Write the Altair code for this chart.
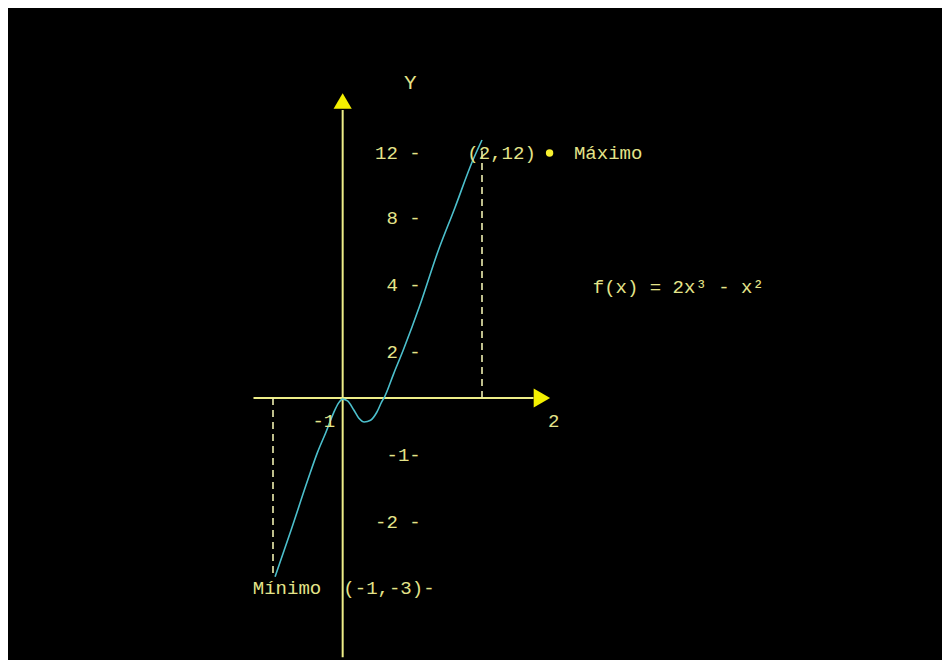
import altair as alt
import pandas as pd

# ---- data ----
# drawn curve of f(x) = 2x^3 - x^2 (as it appears in the picture)
curve_x = [-0.97, -0.74, -0.50, -0.36, -0.24, -0.13, -0.06, 0.0, 0.07, 0.16, 0.23, 0.31,
           0.40, 0.49, 0.56, 0.60, 0.73, 0.87, 1.11, 1.36, 1.61, 1.87, 2.0]
curve_y = [-2.83, -2.12, -1.37, -0.95, -0.60, -0.26, -0.09, -0.02, -0.05, -0.21, -0.35, -0.42,
           -0.39, -0.25, -0.07, 0.04, 1.04, 2.06, 3.40, 5.91, 8.62, 11.57, 12.8]

y_tick_values = [12, 8, 4, 2, -1, -2]
y_tick_labels = ["12 -", "8 -", "4 -", "2 -", "-1-", "-2 -"]

x_tick_values = [-1, 2]
x_tick_labels = ["-1", "2"]

max_point = (2, 12)
min_point = (-1, -3)

# ---- scales (piecewise y scale as drawn in the picture) ----
XS = alt.Scale(domain=[-1, 2], range=[265, 474], zero=False, nice=False)
YS = alt.Scale(domain=[-3, -2, -1, 0, 2, 4, 8, 12],
               range=[580, 514, 447, 390, 344, 277, 210, 145], zero=False, nice=False)

AXIS_COL = "#eeee88"
ARROW_COL = "#f4f000"
TEXT_COL = "#e4e48a"
DASH_COL = "#eeeeb0"
CURVE_COL = "#4cbfcc"
FONT = "Liberation Mono"
FS = 19


def X(f="x"):
    return alt.X(f"{f}:Q", scale=XS, axis=None)


def Y(f="y"):
    return alt.Y(f"{f}:Q", scale=YS, axis=None)


# axes lines
axes_df = pd.DataFrame({
    "x": [0.0, -1.28], "x2": [0.0, 2.74],
    "y": [-4.05, 0.0], "y2": [14.65, 0.0],
})
axes = alt.Chart(axes_df).mark_rule(color=AXIS_COL, strokeWidth=2).encode(
    x=X(), x2="x2:Q", y=Y(), y2="y2:Q")

arrow_up = alt.Chart(pd.DataFrame({"x": [0.0], "y": [15.2]})).mark_point(
    shape="triangle-up", filled=True, size=330, color=ARROW_COL, opacity=1).encode(x=X(), y=Y())
arrow_right = alt.Chart(pd.DataFrame({"x": [2.86], "y": [0.0]})).mark_point(
    shape="triangle-right", filled=True, size=361, color=ARROW_COL, opacity=1).encode(x=X(), y=Y())

# dashed guide lines
dash_df = pd.DataFrame({
    "x": [min_point[0], max_point[0]], "x2": [min_point[0], max_point[0]],
    "y": [0.0, 0.0], "y2": [-2.83, 12.2],
})
dashes = alt.Chart(dash_df).mark_rule(color=DASH_COL, strokeWidth=1.6, strokeDash=[7, 5]).encode(
    x=X(), x2="x2:Q", y=Y(), y2="y2:Q")

# curve
curve = alt.Chart(pd.DataFrame({"x": curve_x, "y": curve_y})).mark_line(
    color=CURVE_COL, strokeWidth=1.6, interpolate="monotone").encode(x=X(), y=Y(), order="x:Q")

# y tick labels (right aligned)
ytl = alt.Chart(pd.DataFrame({"x": [1.12] * len(y_tick_values), "y": y_tick_values,
                              "t": y_tick_labels})).mark_text(
    align="right", baseline="middle", font=FONT, fontSize=FS, color=TEXT_COL).encode(
    x=X(), y=Y(), text="t:N")

# x tick labels
xtl = alt.Chart(pd.DataFrame({"x": [-0.27, 3.03], "y": [-0.40, -0.40],
                              "t": x_tick_labels})).mark_text(
    align="center", baseline="middle", font=FONT, fontSize=FS, color=TEXT_COL).encode(
    x=X(), y=Y(), text="t:N")

# axis title Y
ytitle = alt.Chart(pd.DataFrame({"x": [0.97], "y": [16.3], "t": ["Y"]})).mark_text(
    align="center", baseline="middle", font=FONT, fontSize=21, color=TEXT_COL).encode(
    x=X(), y=Y(), text="t:N")

# annotations (left aligned)
ann = alt.Chart(pd.DataFrame({
    "x": [-1.29, 0.01, 1.79, 3.32, 3.59],
    "y": [-3, -3, 12, 12, 3.94],
    "t": ["Mínimo", "(-1,-3)-", "(2,12)", "Máximo", "f(x) = 2x³ - x²"],
})).mark_text(align="left", baseline="middle", font=FONT, fontSize=FS, color=TEXT_COL).encode(
    x=X(), y=Y(), text="t:N")

dot = alt.Chart(pd.DataFrame({"x": [2.97], "y": [12]})).mark_point(
    shape="circle", filled=True, size=55, color="#f8f030", opacity=1).encode(x=X(), y=Y())

chart = alt.layer(axes, arrow_up, arrow_right, dashes, curve, ytl, xtl, ytitle, ann, dot).properties(
    width=934, height=652, background="black", padding=0,
    autosize=alt.AutoSizeParams(type="none"),
).configure_view(stroke=None)

chart.save("out.html", embed_options={"renderer": "svg", "actions": False})
